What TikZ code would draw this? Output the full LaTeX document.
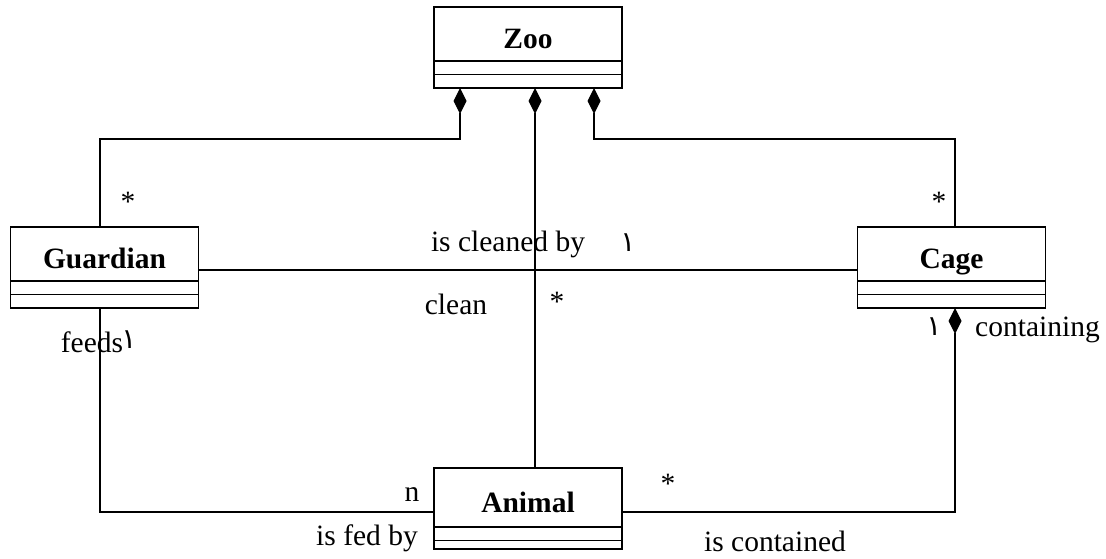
\documentclass[tikz,border=0pt]{standalone}
\usepackage{fontspec}
\setmainfont{Liberation Serif}
\newfontfamily\arabicfont[Script=Arabic]{DejaVu Sans}
\usetikzlibrary{arrows.meta, positioning, calc}
\newcommand{\compartments}[1]
{
	\draw[line width=1.6pt] ([yshift=-13.5pt]#1.south west) -- ([yshift=-13.5pt]#1.south east)
}

\begin{document}
\begin{tikzpicture}[x=1pt, y=-1pt,
	classname/.style={draw, line width=1.6pt, outer sep=0pt, inner sep=0pt,
		minimum width=188pt, minimum height=54pt, text height=29pt, text depth=0pt,
		font=\fontsize{29.5}{30}\selectfont\bfseries},
	classbody/.style={draw, line width=1.6pt, outer sep=0pt, inner sep=0pt,
		minimum width=188pt, minimum height=27pt},
	assoc/.style={line width=1.2pt},
	comp/.style={line width=1.2pt, {Diamond[length=26pt, width=13pt]}-},
	lbl/.style={font=\fontsize{29.5}{30}\selectfont, inner sep=0pt},
	one/.style={font=\arabicfont\fontsize{28}{28}\selectfont, inner sep=0pt}]

	\useasboundingbox (0,0) rectangle (1106,559);

	% classes
	\node[classname] at (528, 34) (zoo){Zoo};
	\node[classbody, below=0pt of zoo] (zoob){};
	\node[classname] at (104.5, 254) (guardian){Guardian};
	\node[classbody, below=0pt of guardian] (guardianb){};
	\node[classname] at (951.5, 254) (cage){Cage};
	\node[classbody, below=0pt of cage] (cageb){};
	\node[classname, minimum height=59pt] at (528, 497.5) (animal){Animal};
	\node[classbody, minimum height=22pt, below=0pt of animal] (animalb){};
	\compartments{zoo};
	\compartments{guardian};
	\compartments{cage};
	\compartments{animal};

	% relations
	\draw[comp] ([xshift=-68pt]zoob.south) -- ++(0,51) -| ([xshift=-4.5pt]guardian.north);
	\draw[comp] ([xshift=7pt]zoob.south) -- ([xshift=7pt]animal.north);
	\draw[comp] ([xshift=66pt]zoob.south) -- ++(0,51) -| ([xshift=3.5pt]cage.north);
	\draw[assoc] ([yshift=-16pt]guardian.east) -- ([yshift=-16pt]cage.west);
	\draw[assoc] ([xshift=-4.5pt]guardianb.south) |- ([yshift=-14.5pt]animal.west);
	\draw[comp] ([xshift=3.5pt]cageb.south) |- ([yshift=-14.5pt]animal.east);

	% labels
	\node[lbl] at (128, 202) (gstar){*};
	\node[lbl] at (939, 202) (cstar){*};
	\node[lbl] at (508, 244) (cleanedby){is cleaned by};
	\node[one] at (628, 243) (cleanedone){١};
	\node[lbl] at (456, 304) (clean){clean};
	\node[lbl] at (557, 302) (astar){*};
	\node[lbl] at (92, 342) (feeds){feeds};
	\node[one] at (129, 340) (feedsone){١};
	\node[one] at (934, 327) (containone){١};
	\node[lbl, anchor=west] at (975, 330) (containing){containing};
	\node[lbl] at (412, 495) (n){n};
	\node[lbl, anchor=east] at (418, 538) (fedby){is fed by};
	\node[lbl] at (668, 484) (cgstar){*};
	\node[lbl] at (775, 541) (contained){is contained};
\end{tikzpicture}
\end{document}
